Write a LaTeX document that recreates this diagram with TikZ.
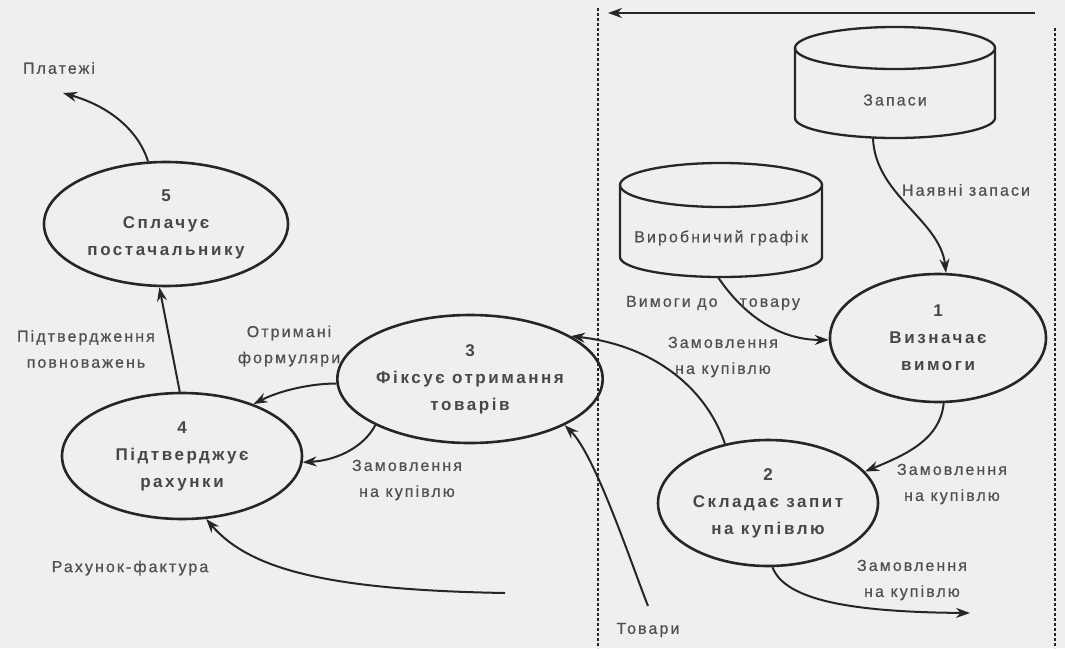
\documentclass[tikz,border=0pt]{standalone}
\usepackage{fontspec}
\setmainfont{Liberation Sans}
\newfontfamily\lblfont[LetterSpace=13,FakeBold=0.6]{Liberation Sans}
\newfontfamily\prcfont[LetterSpace=15]{Liberation Sans}
\usetikzlibrary{arrows.meta,shapes.geometric}
\definecolor{bg}{HTML}{EFEFED}
\definecolor{ink}{HTML}{262626}
\definecolor{txt}{HTML}{505050}
\begin{document}
\begin{tikzpicture}[x=1pt,y=-1pt,
  proc/.style={ellipse, draw=ink, line width=2.6pt, inner sep=0pt, align=center,
    font=\prcfont\bfseries\fontsize{17}{27}\selectfont, text=ink!85},
  lbl/.style={align=center, inner sep=0pt, font=\lblfont\fontsize{16}{26}\selectfont, text=txt},
  store/.style={draw=none, inner sep=0pt},
  cyl/.style={draw=ink, line width=2.3pt},
  flow/.style={draw=ink, line width=2pt, -{Stealth[length=14pt,width=10pt]}},
  border/.style={draw=ink, line width=1.6pt, dash pattern=on 3pt off 2pt}
]
\fill[bg] (0,0) rectangle (1065,648);
\useasboundingbox (0,0) rectangle (1065,648);

% boundaries
\draw[border] (598,8) -- (598,648);
\draw[border] (1055,28) -- (1055,648);
\coordinate (topr) at (1035,13);
\coordinate (topl) at (608,13);
\draw[flow] (topr) -- (topl);

% data stores
\node[store, minimum width=200, minimum height=110] (zap) at (895,83) {};
\draw[cyl] (895,48) ellipse[x radius=100, y radius=21];
\draw[cyl] (795,48) -- (795,118) .. controls (795,129) and (840,138) .. (895,138)
  .. controls (950,138) and (995,129) .. (995,118) -- (995,48);
\node[lbl] (zapt) at (895,100) {Запаси};

\node[store, minimum width=202, minimum height=114] (vyr) at (721,220) {};
\draw[cyl] (721,185) ellipse[x radius=101, y radius=22];
\draw[cyl] (620,185) -- (620,257) .. controls (620,268) and (665,277) .. (721,277)
  .. controls (777,277) and (822,268) .. (822,257) -- (822,185);
\node[lbl] (vyrt) at (721,238) {Виробничий графік};

% processes
\node[proc, minimum width=216, minimum height=128] (p1) at (938,338) {1\\Визначає\\вимоги};
\node[proc, minimum width=220, minimum height=126] (p2) at (768,503) {2\\Складає запит\\на купівлю};
\node[proc, minimum width=224, minimum height=128] (p3) at (470,379) {3\\Фіксує отримання\\товарів};
\node[proc, minimum width=240, minimum height=126] (p4) at (182,456) {4\\Підтверджує\\рахунки};
\node[proc, minimum width=244, minimum height=124] (p5) at (166,224) {5\\Сплачує\\постачальнику};

% free ends
\coordinate (pay) at (63,93);
\coordinate (inv) at (505,593);
\coordinate (goods) at (648,606);
\coordinate (out) at (970,613);

% flows
\draw[flow] ([xshift=-22pt]zap.south) .. controls (875,195) and (940,220) .. (p1.83);
\draw[flow] ([xshift=-3pt]vyr.south) .. controls (740,310) and (775,340) .. (p1.181);
\draw[flow] (p1.-85) .. controls (940,440) and (905,455) .. (p2.18);
\draw[flow] (p2.-86) .. controls (785,600) and (850,612) .. (out);
\draw[flow] (p2.126) .. controls (705,385) and (650,345) .. (p3.23);
\draw[flow] (goods) .. controls (630,560) and (595,455) .. (p3.-26);
\draw[flow] (p3.182) .. controls (320,383) and (285,388) .. (p4.36);
\draw[flow] (p3.206) .. controls (365,445) and (340,460) .. (p4.-3);
\draw[flow] (inv) .. controls (330,590) and (250,570) .. (p4.-69);
\draw[flow] (p4.92) -- (p5.-96);
\draw[flow] (p5.106) .. controls (140,135) and (115,108) .. (pay);

% labels
\node[lbl] (l1) at (59,68) {Платежі};
\node[lbl] (l2) at (966,190) {Наявні запаси};
\node[lbl] (l3) at (713,303) {Вимоги до\hspace{22pt}товару};
\node[lbl] (l4) at (723,357) {Замовлення\\на купівлю};
\node[lbl] (l5) at (952,484) {Замовлення\\на купівлю};
\node[lbl] (l6) at (912,580) {Замовлення\\на купівлю};
\node[lbl] (l7) at (648,630) {Товари};
\node[lbl] (l8) at (289,346) {Отримані\\формуляри};
\node[lbl] (l9) at (407,480) {Замовлення\\на купівлю};
\node[lbl] (l10) at (86,349) {Підтвердження\\повноважень};
\node[lbl] (l11) at (130,568) {Рахунок-фактура};
\end{tikzpicture}
\end{document}
